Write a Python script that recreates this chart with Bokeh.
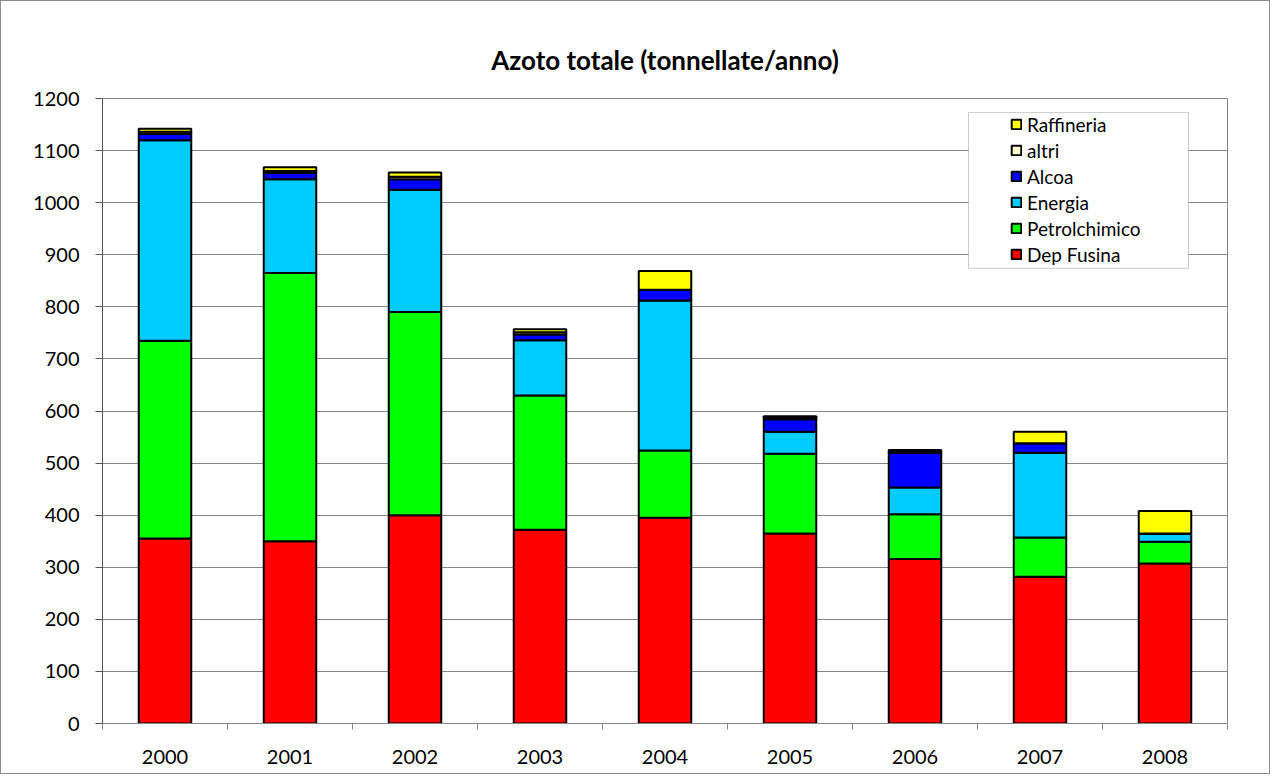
from bokeh.plotting import figure
from bokeh.models import (ColumnDataSource, Legend, LegendItem, FixedTicker, Range1d,
                          BoxAnnotation, Title)
from bokeh.embed import file_html
from bokeh.resources import INLINE

years = ["2000", "2001", "2002", "2003", "2004", "2005", "2006", "2007", "2008"]
dep_fusina = [355, 350, 400, 372, 395, 365, 316, 282, 307]
petrolchimico = [380, 515, 390, 258, 129, 153, 86, 75, 42]
energia = [385, 180, 235, 106, 288, 42, 51, 163, 16]
alcoa = [12, 12, 20, 11, 21, 24, 67, 18, 0]
altri = [4, 4, 5, 4, 0, 3, 3, 0, 0]
raffineria = [6, 7, 8, 6, 36, 3, 2, 22, 43]

series = ["Dep Fusina", "Petrolchimico", "Energia", "Alcoa", "altri", "Raffineria"]
colors = ["#FF0000", "#00FF00", "#00CCFF", "#0000FF", "#FFFFCC", "#FFFF00"]
y_ticks = list(range(0, 1300, 100))

xpos = [i + 0.5 for i in range(len(years))]
source = ColumnDataSource(dict(x=xpos, **{
    "Dep Fusina": dep_fusina, "Petrolchimico": petrolchimico, "Energia": energia,
    "Alcoa": alcoa, "altri": altri, "Raffineria": raffineria}))

FONT = "Lato"

p = figure(width=1270, height=774, output_backend="svg", toolbar_location=None,
           x_range=Range1d(0, len(years)), y_range=Range1d(0, 1200),
           min_border_left=101, min_border_right=44, min_border_top=97, min_border_bottom=52)
p.styles = {"border": "1px solid #8c8c8c"}

p.title = Title(text="Azoto totale (tonnellate/anno)", align="center",
                text_font=FONT, text_font_size="26px", text_font_style="bold",
                text_color="black", standoff=45)

renderers = p.vbar_stack(series, x="x", width=0.42, source=source, color=colors,
                         line_color="black", line_width=2)

# axes
p.xaxis.ticker = FixedTicker(ticks=xpos, minor_ticks=list(range(len(years) + 1)))
p.xaxis.major_label_overrides = {x: y for x, y in zip(xpos, years)}
p.xaxis.major_tick_line_color = None
p.xaxis.major_tick_out = 0
p.xaxis.minor_tick_line_color = "#868686"
p.xaxis.minor_tick_out = 6
p.xaxis.minor_tick_in = 0
p.xaxis.major_label_standoff = 20
p.xaxis.axis_line_color = "#868686"

p.yaxis.ticker = FixedTicker(ticks=y_ticks)
p.yaxis.minor_tick_line_color = None
p.yaxis.major_tick_out = 7
p.yaxis.major_tick_in = 0
p.yaxis.major_tick_line_color = "#555555"
p.yaxis.axis_line_color = "#555555"
p.yaxis.major_label_standoff = 16

for ax in (p.xaxis, p.yaxis):
    ax.major_label_text_font = FONT
    ax.major_label_text_font_size = "20px"
    ax.major_label_text_color = "black"

p.xgrid.grid_line_color = None
p.ygrid.grid_line_color = "#868686"
p.ygrid.grid_line_width = 1
p.outline_line_color = "#868686"
p.outline_line_width = 1
p.background_fill_color = "white"

# legend box
box = BoxAnnotation(left=6.928, right=8.688, top=1173, bottom=874,
                    fill_color="white", fill_alpha=1.0, line_color="#555555", line_width=1)
p.add_layout(box)

items = [LegendItem(label=name, renderers=[r]) for name, r in zip(series, renderers)][::-1]
legend = Legend(items=items, location=(908, 456), orientation="vertical",
                label_text_font=FONT, label_text_font_size="19px", label_text_color="black",
                glyph_width=12, glyph_height=12, label_height=26, label_standoff=5,
                spacing=0, padding=0, margin=0, border_line_color=None,
                background_fill_alpha=0.0)
p.add_layout(legend)

open("out.html", "w").write(file_html(p, INLINE))
